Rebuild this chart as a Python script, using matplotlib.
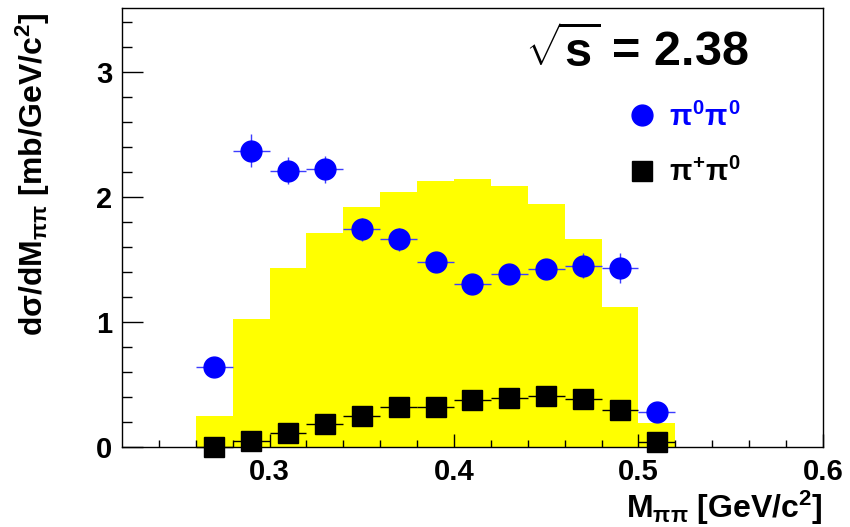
import numpy as np
import matplotlib
matplotlib.use('Agg')
import matplotlib.pyplot as plt
from matplotlib.lines import Line2D

plt.rcParams['font.family'] = 'Liberation Sans'
plt.rcParams['font.weight'] = 'bold'
plt.rcParams['axes.labelweight'] = 'bold'
plt.rcParams['mathtext.fontset'] = 'custom'
plt.rcParams['mathtext.rm'] = 'Liberation Sans:bold'
plt.rcParams['mathtext.it'] = 'Liberation Sans:bold'
plt.rcParams['mathtext.bf'] = 'Liberation Sans:bold'

# yellow histogram (bin edges / contents)
hist_edges = [0.26, 0.28, 0.30, 0.32, 0.34, 0.36, 0.38, 0.40, 0.42, 0.44, 0.46, 0.48, 0.50, 0.52]
hist_vals = [0.25, 1.02, 1.43, 1.71, 1.92, 2.04, 2.13, 2.14, 2.09, 1.94, 1.66, 1.12, 0.19]

# data points
m_centers = [0.27, 0.29, 0.31, 0.33, 0.35, 0.37, 0.39, 0.41, 0.43, 0.45, 0.47, 0.49, 0.51]
pi0pi0 = [0.64, 2.37, 2.21, 2.22, 1.74, 1.66, 1.48, 1.30, 1.38, 1.42, 1.45, 1.43, 0.28]
pi0pi0_err = [0.05, 0.13, 0.11, 0.11, 0.09, 0.09, 0.08, 0.06, 0.07, 0.08, 0.10, 0.12, 0.05]
pipi0 = [0.0, 0.05, 0.115, 0.18, 0.245, 0.317, 0.32, 0.376, 0.39, 0.41, 0.384, 0.296, 0.04]
pipi0_err = [0.02, 0.02, 0.02, 0.02, 0.03, 0.03, 0.03, 0.03, 0.03, 0.03, 0.03, 0.03, 0.02]
bin_half = 0.01

fig = plt.figure(figsize=(8.5, 5.27), dpi=100)
ax = fig.add_axes([0.1435, 0.1518, 0.8247, 0.833])

ax.stairs(hist_vals, hist_edges, fill=True, color='yellow', zorder=1)

ax.errorbar(m_centers, pi0pi0, yerr=pi0pi0_err, xerr=bin_half, fmt='o', color='blue',
            ecolor='#3d3dff', elinewidth=1, ms=15, capsize=0, clip_on=False, zorder=3)
ax.errorbar(m_centers, pipi0, yerr=pipi0_err, xerr=bin_half, fmt='s', color='black',
            elinewidth=1, ms=15, capsize=0, clip_on=False, zorder=3)

ax.set_xlim(0.22, 0.6)
ax.set_ylim(0, 3.51)
ax.set_xticks([0.3, 0.4, 0.5, 0.6])
ax.set_xticklabels(['0.3', '0.4', '0.5', '0.6'])
ax.set_xticks(np.arange(0.24, 0.6, 0.02), minor=True)
ax.set_yticks([0, 1, 2, 3])
ax.set_yticks(np.arange(0.2, 3.5, 0.2), minor=True)
ax.tick_params(axis='x', which='major', direction='in', length=9.4, width=1, labelsize=21, pad=8)
ax.tick_params(axis='x', which='minor', direction='in', length=4.7, width=1)
ax.tick_params(axis='y', which='major', direction='in', length=15, width=1, labelsize=21, pad=7)
ax.tick_params(axis='y', which='minor', direction='in', length=7.4, width=1)
for s in ax.spines.values():
    s.set_linewidth(1)

ax.set_xlabel(r'M$_{\pi\pi}$ [GeV/c$^{2}$]', fontsize=23, loc='right', labelpad=2)
ax.set_ylabel(r'd$\sigma$/dM$_{\pi\pi}$ [mb/GeV/c$^{2}$]', fontsize=23, loc='top')
ax.yaxis.set_label_coords(-0.10, 0.989)

ax.text(0.575, 0.866, r'$\sqrt{\mathrm{s}}$ = 2.38', transform=ax.transAxes,
        fontsize=35, ha='left', va='baseline')

handles = [Line2D([], [], marker='o', color='blue', ls='none', ms=15),
           Line2D([], [], marker='s', color='black', ls='none', ms=15)]
ax.legend(handles, [r'$\pi^{0}\pi^{0}$', r'$\pi^{+}\pi^{0}$'], loc='upper left',
          bbox_to_anchor=(0.684, 0.845), frameon=False, fontsize=21,
          labelcolor=['blue', 'black'], handlelength=1.0, handletextpad=0.4,
          labelspacing=0.9)

fig.savefig('out.png', dpi=100)
